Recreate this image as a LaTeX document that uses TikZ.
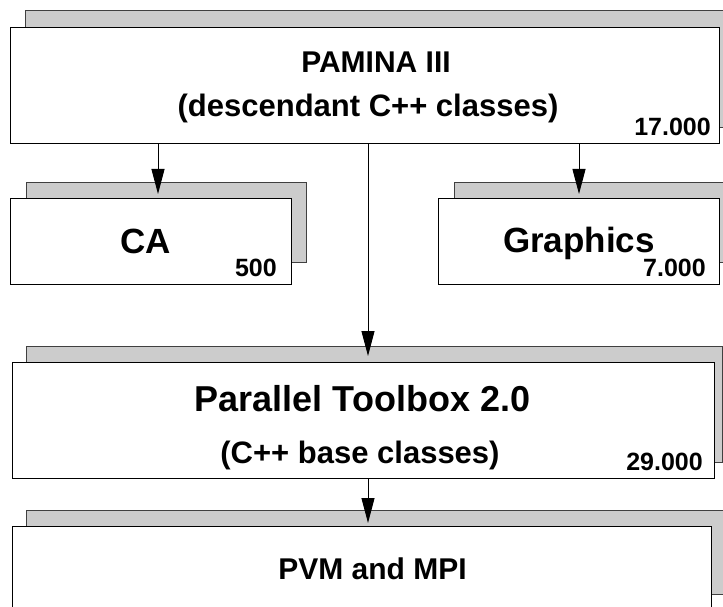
\documentclass[tikz,border=0pt]{standalone}
\usepackage{fontspec}
\setmainfont{Liberation Sans}[BoldFont={Liberation Sans Bold}]
\newfontfamily\heavyfont{Liberation Sans Bold}
\usetikzlibrary{arrows.meta}
\definecolor{shadowgray}{HTML}{CCCCCC}
\definecolor{shadowline}{HTML}{404040}
\tikzset{
  shadowbox/.style={fill=shadowgray, draw=shadowline, line width=1pt},
  frontbox/.style={fill=white, draw=black, line width=1.1pt},
  bigtxt/.style={inner sep=0pt, anchor=base, font=\heavyfont\fontsize{35}{40}\selectfont},
  midtxt/.style={inner sep=0pt, anchor=base, font=\heavyfont\fontsize{30}{36}\selectfont},
  numtxt/.style={inner sep=0pt, anchor=base east, font=\heavyfont\fontsize{25}{30}\selectfont},
  arr/.style={draw=black, line width=1pt, -{Triangle[length=25pt,width=13pt]}}
}
\begin{document}
\begin{tikzpicture}[x=1pt,y=-1pt]
\useasboundingbox (0,0) rectangle (723,607);
\clip (0,0) rectangle (723,607);
% shadows
\draw[shadowbox] (25,11) rectangle (735,128);
\draw[shadowbox] (26,182) rectangle (306,262);
\draw[shadowbox] (454,182) rectangle (735,262);
\draw[shadowbox] (26,346) rectangle (722,462);
\draw[shadowbox] (26,510) rectangle (735,594);
% front boxes
\node[frontbox, minimum width=709pt, minimum height=116pt, anchor=north west, inner sep=0pt] (pam) at (10,27) {};
\node[frontbox, minimum width=281pt, minimum height=86pt, anchor=north west, inner sep=0pt] (ca) at (10,198) {};
\node[frontbox, minimum width=281pt, minimum height=86pt, anchor=north west, inner sep=0pt] (gra) at (438,198) {};
\node[frontbox, minimum width=702pt, minimum height=116pt, anchor=north west, inner sep=0pt] (par) at (12,362) {};
\node[frontbox, minimum width=699pt, minimum height=100pt, anchor=north west, inner sep=0pt] (pvm) at (12,526) {};
% texts
\node[midtxt] (pamA) at (376,72.5) {PAMINA III};
\node[midtxt, font=\heavyfont\fontsize{31}{36}\selectfont] (pamB) at (368,117) {(descendant C++ classes)};
\node[numtxt] (pamN) at (711,136) {17.000};
\node[bigtxt] (caA) at (145.5,253) {CA};
\node[numtxt] (caN) at (277,276) {500};
\node[bigtxt] (graA) at (579,252) {Graphics};
\node[numtxt] (graN) at (706,276) {7.000};
\node[bigtxt, font=\heavyfont\fontsize{36}{40}\selectfont] (parA) at (362.6,411) {Parallel Toolbox 2.0};
\node[midtxt, font=\heavyfont\fontsize{31}{36}\selectfont] (parB) at (360,463) {(C++ base classes)};
\node[numtxt] (parN) at (703,470.5) {29.000};
\node[midtxt] (pvmA) at (372.5,579) {PVM and MPI};
% connectors
\coordinate (caIn) at (158,194);
\coordinate (graIn) at (579,194);
\coordinate (parIn) at (368,356);
\coordinate (pvmIn) at (368,523);
\draw[arr] (pam.south -| caIn) -- (caIn);
\draw[arr] (pam.south -| graIn) -- (graIn);
\draw[arr] (pam.south -| parIn) -- (parIn);
\draw[arr] (par.south -| pvmIn) -- (pvmIn);
\end{tikzpicture}
\end{document}
